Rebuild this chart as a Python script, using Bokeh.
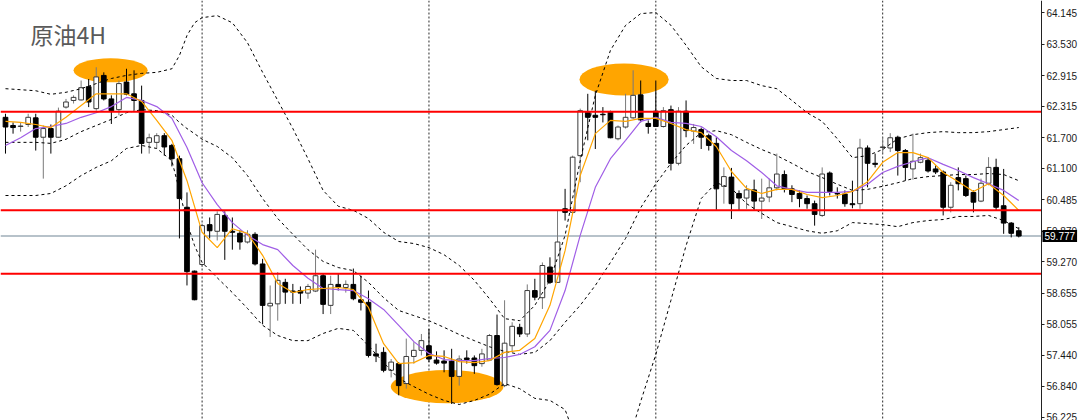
from bokeh.plotting import figure
from bokeh.models import (Range1d, FixedTicker, NumeralTickFormatter, Span, Label,
                          ColumnDataSource)
from bokeh.embed import file_html
from bokeh.resources import INLINE

# ---------------- data ----------------
bar = list(range(135))

open_ = [62.10,61.94,61.92,61.96,62.09,61.71,61.88,61.71,62.30,62.43,
         62.44,62.70,62.27,62.92,62.46,62.25,62.79,62.56,62.43,61.61,
         61.61,61.74,61.55,61.29,60.34,59.09,59.22,60.00,59.87,60.18,
         59.87,59.83,59.66,59.81,59.23,58.41,58.45,58.87,58.70,58.71,
         58.66,58.70,59.00,58.42,58.83,58.77,58.83,58.53,58.48,57.47,
         57.50,57.15,57.28,56.89,57.42,57.54,57.63,57.35,57.33,57.33,
         57.03,57.39,57.39,57.28,57.35,57.83,56.85,57.63,57.99,57.86,
         58.71,58.57,59.17,58.87,60.31,60.24,61.35,62.20,62.14,62.16,
         62.20,61.68,61.91,62.09,62.54,61.98,62.22,61.92,62.25,61.20,
         62.22,61.83,61.86,61.74,61.59,60.75,60.93,60.61,60.52,60.68,
         60.46,60.54,60.72,60.98,60.70,60.61,60.51,60.41,60.18,61.01,
         60.61,60.60,60.41,60.41,61.50,61.20,61.51,61.50,61.71,61.45,
         61.09,61.22,61.26,61.09,61.03,60.34,60.92,60.90,60.63,60.46,
         60.81,61.12,60.37,60.03,59.88]
high = [62.17,62.00,61.99,62.17,62.17,61.94,61.96,62.29,62.46,62.53,
        62.82,62.85,63.08,62.98,62.53,62.82,63.05,63.02,62.72,61.78,
        61.79,61.79,61.58,61.35,60.63,59.10,60.02,60.14,60.26,60.26,
        60.14,59.89,59.89,59.85,59.33,58.81,59.07,58.94,58.84,58.79,
        58.84,59.51,59.04,59.00,59.04,58.91,59.14,59.00,58.71,57.67,
        57.60,57.37,57.31,57.77,57.70,57.86,57.96,57.52,57.54,57.57,
        57.44,57.54,57.44,57.57,57.86,58.24,58.52,58.09,58.06,58.83,
        58.94,59.26,59.36,60.28,60.70,61.35,62.27,62.56,62.62,62.30,
        62.23,61.94,62.56,63.02,62.82,62.04,62.82,62.30,62.33,62.30,
        62.43,61.97,61.90,61.78,61.71,61.12,61.11,60.67,60.77,60.88,
        60.90,60.90,61.39,61.06,60.77,60.67,60.57,60.47,61.12,61.04,
        60.73,60.67,60.86,61.68,61.55,61.39,61.71,61.79,61.74,61.48,
        61.78,61.39,61.32,61.16,61.06,60.83,61.12,60.96,60.67,60.90,
        61.32,61.29,61.09,60.05,59.95]
low = [61.39,61.78,61.82,61.91,61.45,60.90,61.39,61.70,62.27,62.37,
       62.43,62.30,62.23,62.43,61.97,62.14,62.53,62.23,61.39,61.39,
       61.49,61.35,61.14,59.73,58.81,58.52,59.17,59.73,59.69,59.31,
       59.51,59.51,59.63,59.20,58.05,57.80,58.12,58.45,58.45,58.45,
       58.55,58.68,58.25,58.25,58.71,58.67,58.52,58.32,57.40,57.31,
       57.11,57.01,56.66,56.79,57.28,57.44,57.31,57.26,57.11,56.49,
       56.85,57.28,57.08,57.22,57.34,56.85,56.82,57.50,57.80,57.80,
       58.52,58.35,58.84,58.87,60.08,60.22,60.83,61.65,61.48,62.00,
       61.69,61.65,61.88,62.07,62.00,61.78,61.91,61.90,61.06,61.16,
       61.71,61.58,61.48,61.45,60.29,60.41,60.11,60.28,60.31,60.28,
       60.11,60.44,60.67,60.63,60.44,60.34,60.31,59.98,60.15,60.57,
       60.51,60.35,60.32,60.31,60.73,61.12,61.39,61.42,60.96,60.86,
       60.88,61.20,61.02,60.99,60.18,60.24,60.67,60.54,60.24,60.44,
       60.77,60.28,59.82,59.75,59.75]
close = [61.91,61.90,61.93,62.10,61.71,61.88,61.71,62.22,62.40,62.49,
         62.68,62.40,62.89,62.46,62.23,62.76,62.55,62.43,61.59,61.70,
         61.74,61.52,61.29,60.51,59.08,58.53,59.98,59.88,60.20,59.87,
         59.85,59.66,59.81,59.23,58.42,58.46,58.91,58.68,58.68,58.66,
         58.79,59.00,58.44,58.83,58.78,58.83,58.55,58.48,57.44,57.43,
         57.15,57.31,56.85,57.42,57.54,57.73,57.37,57.29,57.29,57.03,
         57.37,57.36,57.24,57.47,57.83,56.87,57.68,58.01,57.86,58.71,
         58.58,59.20,58.87,59.66,60.24,61.32,62.23,62.10,62.10,62.15,
         61.70,61.91,62.10,62.53,62.05,61.92,61.92,62.23,61.20,62.22,
         61.84,61.90,61.71,61.55,60.70,60.94,60.41,60.52,60.68,60.46,
         60.52,60.72,60.99,60.70,60.59,60.51,60.41,60.20,60.99,60.65,
         60.60,60.41,60.39,61.50,61.20,61.18,61.52,61.70,61.45,61.12,
         61.24,61.31,61.05,61.03,60.34,60.77,60.80,60.57,60.44,60.81,
         61.12,60.34,60.03,59.83,59.777]

# moving averages (every second bar)
ma_idx = list(range(0, 135, 2))
ma_fast = [62.02,62.00,61.96,61.90,62.10,62.33,62.56,62.56,62.56,62.41,
           62.04,61.65,60.86,59.85,59.55,59.92,59.83,59.40,58.85,58.67,
           58.73,58.75,58.77,58.73,58.38,57.67,57.28,57.30,57.44,57.42,
           57.32,57.30,57.34,57.50,57.54,57.77,58.42,59.49,60.96,61.78,
           62.04,62.02,62.08,62.08,61.98,61.86,61.80,61.53,61.04,60.71,
           60.61,60.69,60.69,60.59,60.53,60.57,60.65,60.84,61.22,61.41,
           61.41,61.31,61.02,60.84,60.65,60.80,60.57,60.28]
ma_slow = [61.55,61.70,61.88,61.92,61.98,62.10,62.19,62.31,62.49,62.43,
           62.31,62.08,61.51,60.82,60.39,60.04,59.79,59.61,59.51,59.20,
           58.95,58.75,58.73,58.71,58.55,58.34,58.03,57.71,57.48,57.36,
           57.34,57.34,57.38,57.40,57.46,57.61,57.93,58.71,59.79,60.73,
           61.29,61.65,62.02,62.10,62.00,61.98,61.92,61.72,61.45,61.25,
           61.02,60.76,60.69,60.63,60.63,60.63,60.65,60.79,61.02,61.14,
           61.23,61.31,61.18,61.06,60.92,60.80,60.67,60.47]

# Bollinger bands
bb_idx = [0,2,4,6,8,10,12,14,16,18,20,22,23,24,25,26] + list(range(28, 135, 2))
bb_upper = [62.66,62.64,62.62,62.55,62.59,62.66,62.76,62.86,62.92,62.96,
            62.98,63.05,63.31,63.70,63.95,64.05,
            64.09,63.95,63.56,62.98,62.43,61.88,61.29,60.67,60.36,60.28,
            60.12,59.85,59.67,59.63,59.55,59.41,59.20,58.91,58.55,58.16,
            58.12,58.42,58.91,59.79,61.25,62.53,63.41,63.90,64.13,64.15,
            63.90,63.51,63.09,62.86,62.82,62.82,62.72,62.66,62.43,62.19,
            62.02,61.68,61.31,61.35,61.47,61.68,61.76,61.80,61.82,61.80,
            61.80,61.82,61.86,61.90]
bb_mid = [61.61,61.61,61.61,61.59,61.67,61.82,61.94,62.06,62.19,62.25,
          62.23,62.14,62.00,61.88,61.78,61.67,
          61.53,61.31,60.96,60.51,60.12,59.81,59.51,59.28,59.16,59.10,
          58.87,58.57,58.32,58.22,58.12,57.99,57.85,57.73,57.61,57.52,
          57.46,57.50,57.73,58.09,58.42,58.81,59.26,59.73,60.33,60.80,
          61.20,61.55,61.80,61.84,61.76,61.61,61.47,61.35,61.20,61.04,
          60.92,60.79,60.67,60.69,60.75,60.82,60.90,60.94,60.96,60.98,
          60.98,61.00,60.98,60.86]
bb_lower = [60.57,60.57,60.57,60.61,60.76,60.96,61.12,61.25,61.49,61.55,
            61.49,61.25,60.67,60.04,59.59,59.26,
            58.96,58.67,58.36,58.03,57.83,57.73,57.73,57.87,57.97,57.93,
            57.63,57.30,56.99,56.83,56.68,56.56,56.48,56.56,56.68,56.89,
            56.79,56.60,56.56,56.38,55.58,55.09,55.11,55.56,56.54,57.46,
            58.52,59.59,60.51,60.82,60.71,60.41,60.22,60.04,59.96,59.88,
            59.83,59.88,60.04,60.02,60.00,59.96,60.04,60.08,60.10,60.16,
            60.16,60.18,60.08,59.92]

# horizontal levels, bid line, period separators
red_levels = [62.21, 60.28, 59.04]
bid_price = 59.777
sep_bars = [26, 56, 86, 116]

# highlight ellipses (bar, price, width in bars, height in price)
ell_x = [13.9, 81.8, 58.4]
ell_y = [63.02, 62.84, 56.83]
ell_w = [9.8, 11.8, 14.9]
ell_h = [0.47, 0.63, 0.65]

tick_vals = [64.145, 63.530, 62.915, 62.315, 61.700, 61.100, 60.485,
             59.870, 59.270, 58.655, 58.055, 57.440, 56.840, 56.225]

title_text = "原油4H"

# ---------------- layout constants ----------------
X0, X1 = -0.661, 142.16       # frame spans the full width
AXIS_X = 137.0                # price scale sits inside the frame here
Y0, Y1 = 56.167, 64.386

p = figure(width=1080, height=420,
           x_range=Range1d(X0, X1), y_range=Range1d(Y0, Y1),
           output_backend="svg", toolbar_location=None,
           y_axis_location="right", x_axis_location=None,
           min_border_left=0, min_border_top=0, min_border_bottom=0,
           min_border_right=0)
p.grid.visible = False
p.outline_line_color = None
p.background_fill_color = "white"
p.border_fill_color = "white"

ax = p.yaxis[0]
ax.fixed_location = AXIS_X
ax.ticker = FixedTicker(ticks=tick_vals)
ax.formatter = NumeralTickFormatter(format="0.000")
ax.major_tick_in = 0
ax.major_tick_out = 3
ax.minor_tick_line_color = None
ax.axis_line_color = "#222222"
ax.major_tick_line_color = "#222222"
ax.major_label_text_font = "Liberation Sans"
ax.major_label_text_font_size = "10px"
ax.major_label_text_color = "#1a1a1a"
ax.major_label_standoff = 2

# bid line and separators (background)
p.segment(x0=[X0], y0=[bid_price], x1=[AXIS_X], y1=[bid_price],
          line_color="#b7c2ca", line_width=2, level="underlay")
for s in sep_bars:
    p.add_layout(Span(location=s, dimension="height", line_color="#2a2a2a",
                      line_dash="2 2", line_width=1, level="underlay"))

# ellipses
p.ellipse(x=ell_x, y=ell_y, width=ell_w, height=ell_h,
          fill_color="#FFA500", line_color=None)

# candles
bull = [i for i in bar if close[i] >= open_[i]]
bear = [i for i in bar if close[i] < open_[i]]
src_bull = ColumnDataSource(dict(
    x=bull, hi=[high[i] for i in bull], lo=[low[i] for i in bull],
    top=[close[i] for i in bull], bot=[open_[i] for i in bull]))
src_bear = ColumnDataSource(dict(
    x=bear, hi=[high[i] for i in bear], lo=[low[i] for i in bear],
    top=[open_[i] for i in bear], bot=[close[i] for i in bear]))

p.segment(x0="x", y0="hi", x1="x", y1="lo", source=src_bull,
          line_color="#7a7a7a", line_width=1)
p.segment(x0="x", y0="hi", x1="x", y1="lo", source=src_bear,
          line_color="black", line_width=1)
p.vbar(x="x", top="top", bottom="bot", width=0.62, source=src_bull,
       fill_color="white", line_color="#3a3a3a", line_width=1)
p.vbar(x="x", top="top", bottom="bot", width=0.62, source=src_bear,
       fill_color="black", line_color="black", line_width=1)

# indicators
for band in (bb_upper, bb_mid, bb_lower):
    p.line(bb_idx, band, line_color="black", line_dash="3 3", line_width=1)
p.line(ma_idx, ma_slow, line_color="#a05ee6", line_width=1.2)
p.line(ma_idx, ma_fast, line_color="#FFA500", line_width=1.2)

# red levels (end at the price scale)
p.segment(x0=[X0] * len(red_levels), y0=red_levels,
          x1=[AXIS_X] * len(red_levels), y1=red_levels,
          line_color="#ff0000", line_width=2)

# title text
p.add_layout(Label(x=3.3, y=63.74, text=title_text, text_font="Noto Sans CJK SC",
                   text_font_size="23px", text_color="#5a5a5a",
                   text_baseline="middle", text_align="left"))

# bid price box on the price scale
p.add_layout(Label(x=AXIS_X, y=bid_price, text="59.777", x_offset=1,
                   text_font="Liberation Sans", text_font_size="10px",
                   text_color="white", text_baseline="middle", text_align="left",
                   background_fill_color="black", padding=2))

open("out.html", "w").write(file_html(p, INLINE))
